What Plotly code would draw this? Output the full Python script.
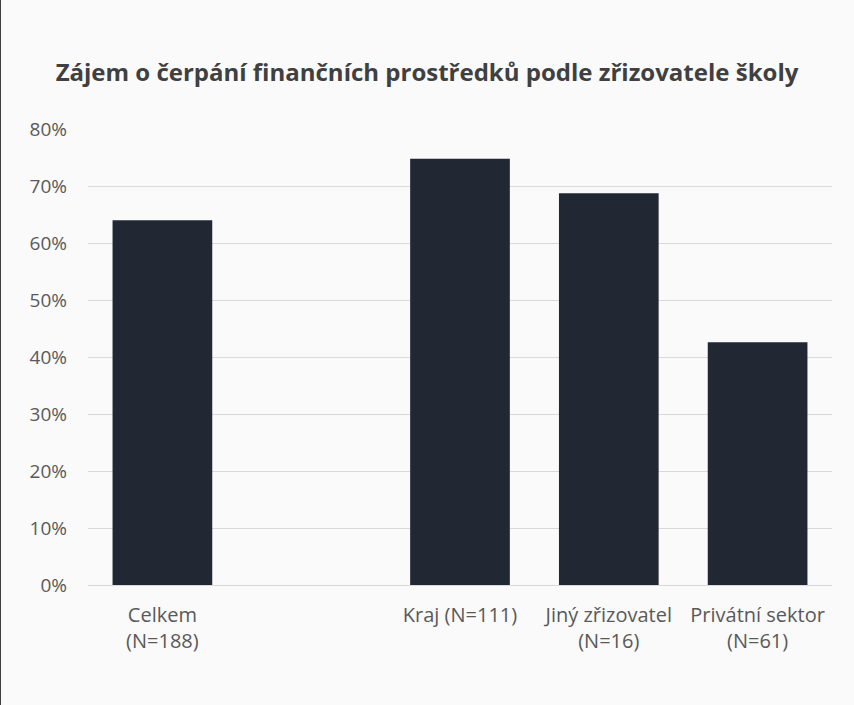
import plotly.graph_objects as go

categories = ["Celkem<br>(N=188)", " ", "Kraj (N=111)", "Jiný zřizovatel<br>(N=16)", "Privátní sektor<br>(N=61)"]
values = [0.64, None, 0.748, 0.6875, 0.426]
y_ticks = [0, 0.1, 0.2, 0.3, 0.4, 0.5, 0.6, 0.7, 0.8]
title_text = "Zájem o čerpání finančních prostředků podle zřizovatele školy"

W, H = 854, 705
ml, mr, mt, mb = 88, 22, 129, 120

fig = go.Figure(go.Bar(x=categories, y=values, marker=dict(color="#222833", line=dict(width=0))))

fig.update_layout(
    width=W, height=H,
    margin=dict(l=ml, r=mr, t=mt, b=mb),
    paper_bgcolor="#fafafa", plot_bgcolor="#fafafa",
    bargap=0.33,
    showlegend=False,
    font=dict(family="Open Sans", color="#595959", size=19),
    title=dict(text="<b>" + title_text + "</b>", x=0.5, xanchor="center", y=1 - 73 / H, yanchor="middle",
               font=dict(family="Open Sans", size=24, color="#404040")),
    xaxis=dict(type="category", categoryorder="array", categoryarray=categories,
               showgrid=False, showline=False, ticks="", ticklabelstandoff=16,
               tickfont=dict(size=20, color="#595959")),
    yaxis=dict(range=[0, 0.8], tickvals=y_ticks, tickformat=".0%", showgrid=True, gridcolor="#d9d9d9",
               gridwidth=1, zeroline=True, zerolinecolor="#d9d9d9", zerolinewidth=1,
               showline=False, ticks="", ticklabelstandoff=20,
               tickfont=dict(size=19, color="#595959")),
)

pw = W - ml - mr
fig.add_shape(type="line", xref="paper", yref="paper", x0=-(ml - 0.5) / pw, x1=-(ml - 0.5) / pw,
              y0=-mb / (H - mt - mb), y1=1 + mt / (H - mt - mb), line=dict(color="#404040", width=1))

fig.write_html("out.html")
